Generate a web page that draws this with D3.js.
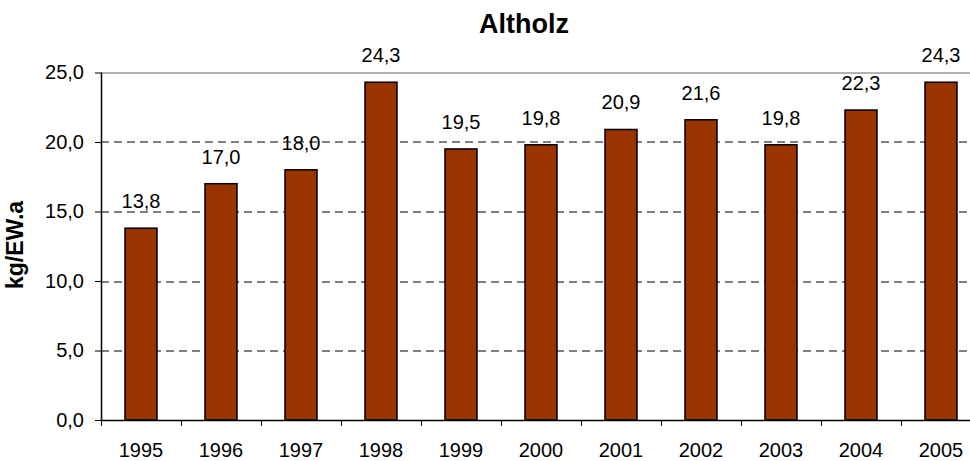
<!DOCTYPE html>
<html>
<head>
<meta charset="utf-8">
<script src="https://cdn.jsdelivr.net/npm/d3@7"></script>
<style>
  body { margin: 0; background: #fff; }
  svg, svg text { font-family: "Liberation Sans", Arial, sans-serif; }
</style>
</head>
<body>
<div id="chart"></div>
<script>
const years = ["1995","1996","1997","1998","1999","2000","2001","2002","2003","2004","2005"];
const values = [13.8, 17.0, 18.0, 24.3, 19.5, 19.8, 20.9, 21.6, 19.8, 22.3, 24.3];
const yTicks = [0, 5, 10, 15, 20, 25];

const margin = {top: 72.5, right: 0, bottom: 41, left: 101},
  width = 880,
  height = 461 - margin.top - margin.bottom;

const fmt = v => d3.format(".1f")(v).replace(".", ",");

const svg = d3.select("#chart")
  .append("svg")
    .attr("width", 970)
    .attr("height", 461)
  .append("g")
    .attr("transform", `translate(${margin.left},${margin.top})`);

const x = d3.scaleBand()
  .domain(years)
  .range([0, width])
  .paddingInner(0.6)
  .paddingOuter(0.3);

const y = d3.scaleLinear()
  .domain([0, 25])
  .range([height, 0]);

// gridlines
svg.selectAll(".grid")
  .data(yTicks.filter(d => d > 0))
  .join("line")
    .attr("x1", 0)
    .attr("x2", width)
    .attr("y1", d => Math.round(y(d)) + 0.5)
    .attr("y2", d => Math.round(y(d)) + 0.5)
    .attr("stroke", d => d === 25 ? "#999" : "#000")
    .attr("stroke-width", d => d === 25 ? 1.5 : 1)
    .attr("stroke-dasharray", d => d === 25 ? null : "8,5");

// bars
svg.selectAll(".bar")
  .data(values)
  .join("rect")
    .attr("x", (d, i) => x(years[i]))
    .attr("y", d => y(d))
    .attr("width", x.bandwidth())
    .attr("height", d => height - y(d))
    .attr("fill", "#993300")
    .attr("stroke", "#000")
    .attr("stroke-width", 1.5);

// value labels
svg.selectAll(".val")
  .data(values)
  .join("text")
    .attr("x", (d, i) => x(years[i]) + x.bandwidth() / 2)
    .attr("y", d => y(d) - 20)
    .attr("text-anchor", "middle")
    .style("font-size", "20px")
    .text(d => fmt(d));

// y axis
const yAxis = svg.append("g")
  .attr("font-family", null)
  .call(d3.axisLeft(y).tickValues(yTicks).tickSize(6).tickFormat(fmt));
yAxis.attr("font-family", null);
yAxis.select(".domain").attr("stroke", "#000").attr("stroke-width", 1.5).attr("d", `M0.5,0V${height}`);
yAxis.selectAll("text").style("font-size", "20px").attr("x", -17).attr("fill", "#000");
yAxis.selectAll("line").attr("stroke", "#000");

// x axis
const xAxis = svg.append("g")
  .attr("transform", `translate(0,${height})`)
  .call(d3.axisBottom(x).tickSize(0).tickPadding(0));
xAxis.attr("font-family", null);
xAxis.select(".domain").attr("stroke", "#000").attr("stroke-width", 1.5).attr("d", `M0,0.5H${width}`);
xAxis.selectAll("text").style("font-size", "20px").attr("fill", "#000").attr("dy", null).attr("y", 37);

// category boundary ticks
const step = x.step();
svg.append("g")
  .attr("transform", `translate(0,${height})`)
  .selectAll("line")
  .data(d3.range(years.length + 1))
  .join("line")
    .attr("x1", i => Math.round(i * step) + 0.5)
    .attr("x2", i => Math.round(i * step) + 0.5)
    .attr("y1", 0)
    .attr("y2", 6)
    .attr("stroke", "#000");

// title
svg.append("text")
  .attr("x", 524 - margin.left)
  .attr("y", 33 - margin.top)
  .attr("text-anchor", "middle")
  .style("font-size", "27px")
  .style("font-weight", "bold")
  .text("Altholz");

// y axis label
svg.append("text")
  .attr("transform", `translate(${23 - margin.left},${245 - margin.top}) rotate(-90)`)
  .attr("text-anchor", "middle")
  .style("font-size", "23px")
  .style("font-weight", "bold")
  .text("kg/EW.a");
</script>
</body>
</html>
